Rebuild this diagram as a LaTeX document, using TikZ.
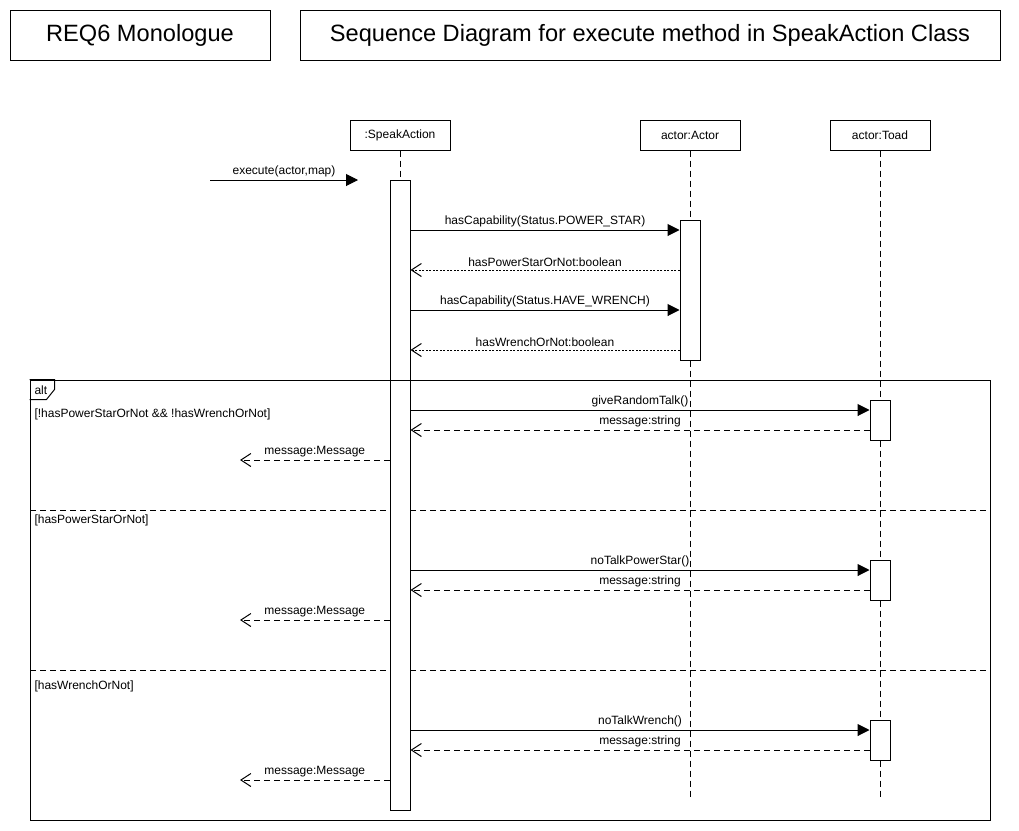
\documentclass[tikz,border=0pt]{standalone}
\usepackage{fontspec}
\setmainfont{Liberation Sans}
\usetikzlibrary{arrows.meta,calc}
\begin{document}
\begin{tikzpicture}[x=1pt,y=-1pt,line width=1pt,
  titlebox/.style={draw,minimum height=50,inner sep=0pt,font=\fontsize{23.6}{28}\selectfont},
  hdr/.style={draw,fill=white,minimum width=100,minimum height=30,inner sep=0pt,font=\fontsize{12}{14}\selectfont},
  actbox/.style={draw,fill=white,minimum width=20,inner sep=0pt},
  life/.style={dash pattern=on 6pt off 4pt},
  call/.style={-{Triangle[length=12pt,width=12pt]}},
  retdot/.style={dash pattern=on 2pt off 1.5pt,line width=0.8pt,-{Straight Barb[length=10pt,width=13pt,line width=1pt]}},
  ret/.style={dash pattern=on 6pt off 4pt,-{Straight Barb[length=10pt,width=13pt]}},
  lbl/.style={font=\fontsize{12}{14}\selectfont,inner sep=0pt,anchor=south},
  guard/.style={font=\fontsize{12}{14}\selectfont,inner sep=0pt,anchor=base west},
  sep/.style={dash pattern=on 6pt off 4pt}
]
\useasboundingbox (0,0) rectangle (1019,830);
\fill[white] (0,0) rectangle (1019,830);

% titles
\node[titlebox,minimum width=260] (t1) at (140,35) {REQ6 Monologue};
\node[titlebox,minimum width=700] (t2) at (650,35) {Sequence Diagram for execute method in SpeakAction Class};

% lifeline headers
\node[hdr] (sa) at (400,135) {:SpeakAction};
\node[hdr] (aa) at (690,135) {actor:Actor};
\node[hdr] (ta) at (880,135) {actor:Toad};

\coordinate (saEnd) at (400,810);
\coordinate (aaEnd) at (690,800);
\coordinate (taEnd) at (880,800);

% lifelines
\draw[life] (sa.south) -- (saEnd);
\draw[life] (aa.south) -- (aaEnd);
\draw[life] (ta.south) -- (taEnd);

% alt separators
\coordinate (s1l) at (30,510); \coordinate (s1r) at (990,510);
\coordinate (s2l) at (30,670); \coordinate (s2r) at (990,670);
\draw[sep] (s1l) -- (s1r);
\draw[sep] (s2l) -- (s2r);

% activations
\node[actbox,minimum height=630] (saA) at (400,495) {};
\node[actbox,minimum height=140] (aaA) at (690,290) {};
\node[actbox,minimum height=40] (tA1) at (880,420) {};
\node[actbox,minimum height=40] (tA2) at (880,580) {};
\node[actbox,minimum height=40] (tA3) at (880,740) {};

% alt frame
\node[draw,minimum width=960,minimum height=440,inner sep=0pt] (alt) at (510,600) {};
\draw (alt.north west) -- ++(25,0) coordinate (tab1) -- ++(0,10) -- ++(-8,10) -- ++(-17,0);
\node[guard] (altlbl) at (34,394) {alt};
\node[guard] (g1) at (34,417) {[!hasPowerStarOrNot \&\& !hasWrenchOrNot]};
\node[guard] (g2) at (34,523) {[hasPowerStarOrNot]};
\node[guard] (g3) at (34,689) {[hasWrenchOrNot]};

% found message
\coordinate (exStart) at (210,180);
\coordinate (exEnd) at (358,180);
\draw[call] (exStart) -- (exEnd) node[lbl,midway,above=3pt] {execute(actor,map)};

% actor calls
\draw[call] (saA.east |- 0,230) -- (aaA.west |- 0,230) node[lbl,midway,above=3pt] {hasCapability(Status.POWER\_STAR)};
\draw[retdot] (aaA.west |- 0,270) -- (saA.east |- 0,270) node[lbl,midway,above=3pt] {hasPowerStarOrNot:boolean};
\draw[call] (saA.east |- 0,310) -- (aaA.west |- 0,310) node[lbl,midway,above=3pt] {hasCapability(Status.HAVE\_WRENCH)};
\draw[retdot] (aaA.west |- 0,350) -- (saA.east |- 0,350) node[lbl,midway,above=3pt] {hasWrenchOrNot:boolean};

% branch 1
\draw[call] (saA.east |- 0,410) -- (tA1.west |- 0,410) node[lbl,midway,above=3pt] {giveRandomTalk()};
\draw[ret] (tA1.west |- 0,430) -- (saA.east |- 0,430) node[lbl,midway,above=3pt] {message:string};
\coordinate (m1) at (240,460);
\draw[ret] (saA.west |- 0,460) -- (m1) node[lbl,midway,above=3pt] {message:Message};

% branch 2
\draw[call] (saA.east |- 0,570) -- (tA2.west |- 0,570) node[lbl,midway,above=3pt] {noTalkPowerStar()};
\draw[ret] (tA2.west |- 0,590) -- (saA.east |- 0,590) node[lbl,midway,above=3pt] {message:string};
\coordinate (m2) at (240,620);
\draw[ret] (saA.west |- 0,620) -- (m2) node[lbl,midway,above=3pt] {message:Message};

% branch 3
\draw[call] (saA.east |- 0,730) -- (tA3.west |- 0,730) node[lbl,midway,above=3pt] {noTalkWrench()};
\draw[ret] (tA3.west |- 0,750) -- (saA.east |- 0,750) node[lbl,midway,above=3pt] {message:string};
\coordinate (m3) at (240,780);
\draw[ret] (saA.west |- 0,780) -- (m3) node[lbl,midway,above=3pt] {message:Message};
\end{tikzpicture}
\end{document}
